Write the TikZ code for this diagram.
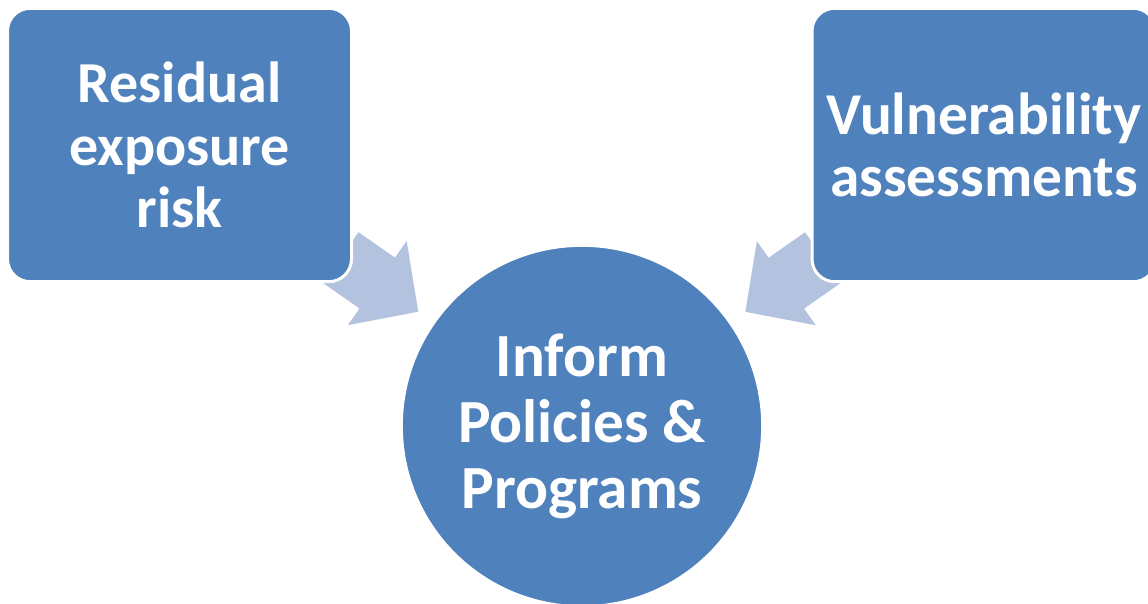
\documentclass[tikz,border=0pt]{standalone}
\usepackage{fontspec}
\setmainfont{Carlito}
\usepackage{tikz}
\usetikzlibrary{calc,backgrounds}
\definecolor{boxblue}{RGB}{79,129,189}
\definecolor{arrowblue}{RGB}{179,194,222}
\tikzset{sourcebox/.style={rectangle,rounded corners=17pt,fill=boxblue,draw=white,line width=2.25pt,
    minimum width=258pt,minimum height=205pt,text=white,align=center,
    font=\fontsize{43.5}{47}\selectfont\bfseries},
    targetdisc/.style={circle,fill=boxblue,draw=white,line width=2.25pt,minimum size=271pt,
    text=white,align=center,font=\fontsize{46}{49.5}\selectfont\bfseries},
    convarrow/.style={fill=arrowblue}}
% block arrow on the line from node #1 to node #2
\newcommand{\convarrow}[2]{%
  \coordinate (#1-tail) at ($(#1)!147.5pt!(#2)$);
  \coordinate (#1-neck) at ($(#1)!180.9pt!(#2)$);
  \coordinate (#1-tip) at ($(#1)!218.4pt!(#2)$);
  \fill[convarrow] ($(#1-tail)!23.25pt!90:(#2)$) -- ($(#1-neck)!23.25pt!90:(#2)$)
    -- ($(#1-neck)!38.5pt!90:(#2)$) -- (#1-tip) -- ($(#1-neck)!38.5pt!-90:(#2)$)
    -- ($(#1-neck)!23.25pt!-90:(#2)$) -- ($(#1-tail)!23.25pt!-90:(#2)$) -- cycle;}

\begin{document}
\begin{tikzpicture}[x=0.75pt,y=0.75pt,yscale=-1,xscale=1]
%set diagram to the size of the slide
\useasboundingbox (0,0) rectangle (1148,603);

%Shape: Rounded Rect [id:resid]
\node[sourcebox] (resid) at (179.5,145) {Residual\\exposure\\risk};
%Shape: Rounded Rect [id:vuln]
\node[sourcebox,font=\fontsize{44.5}{47}\selectfont\bfseries] (vuln) at (984,145) {Vulnerability\\assessments};
%Shape: Circle [id:inform]
\node[targetdisc] (inform) at (582,426) {Inform\\Policies \&\\Programs};

%Block Arrows, kept behind the boxes
\begin{pgfonlayer}{background}
\convarrow{resid}{inform}
\convarrow{vuln}{inform}
\end{pgfonlayer}

\end{tikzpicture}
\end{document}
